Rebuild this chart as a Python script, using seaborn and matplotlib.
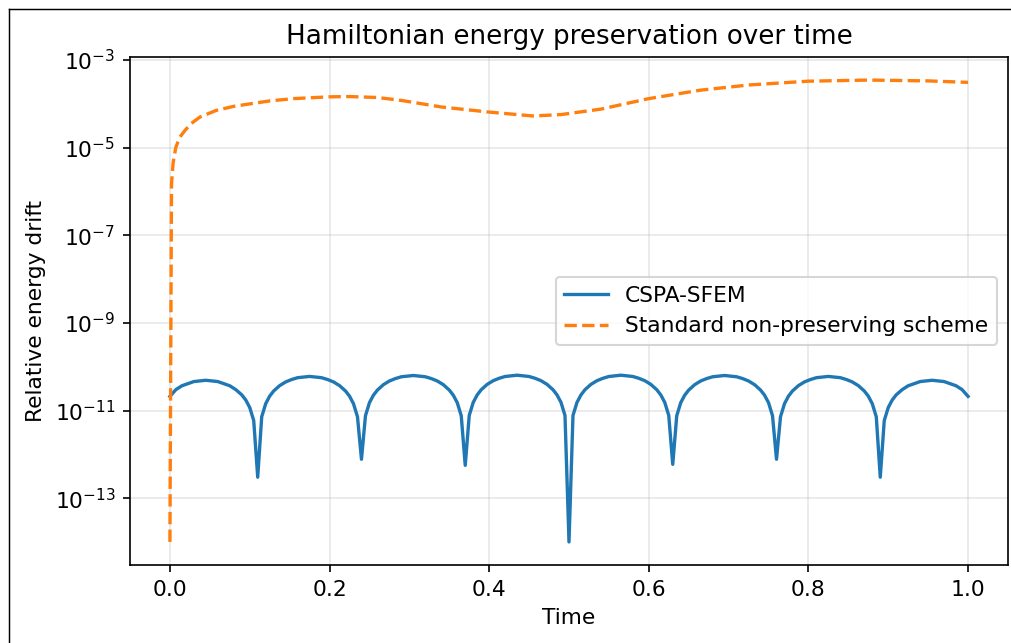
import numpy as np
import seaborn as sns
import matplotlib.pyplot as plt
from matplotlib.lines import Line2D

# CSPA-SFEM drift (cusps every 0.13)
t_arch0 = [0.0, 0.0075, 0.015, 0.03, 0.045, 0.06, 0.075, 0.0825, 0.09, 0.095, 0.1, 0.105, 0.11]
e_arch0 = [2.1e-11, 3.0e-11, 3.67e-11, 4.58e-11, 4.9e-11, 4.58e-11, 3.67e-11, 3.0e-11, 2.28e-11, 1.74e-11, 1.17e-11, 5.9e-12, 3.0e-13]

t_arch1 = [0.115, 0.12, 0.125, 0.13, 0.1375, 0.145, 0.1525, 0.16, 0.175, 0.19, 0.1975, 0.205, 0.2125, 0.22, 0.225, 0.23, 0.235, 0.24]
e_arch1 = [7.2e-12, 1.43e-11, 2.13e-11, 2.79e-11, 3.7e-11, 4.49e-11, 5.1e-11, 5.61e-11, 6.0e-11, 5.61e-11, 5.1e-11, 4.49e-11, 3.7e-11, 2.79e-11, 2.13e-11, 1.43e-11, 7.2e-12, 7.7e-13]

t_arch2 = [0.245, 0.25, 0.255, 0.26, 0.2675, 0.275, 0.2825, 0.29, 0.305, 0.32, 0.3275, 0.335, 0.3425, 0.35, 0.355, 0.36, 0.365, 0.37]
e_arch2 = [7.6e-12, 1.51e-11, 2.24e-11, 2.93e-11, 3.89e-11, 4.72e-11, 5.36e-11, 5.89e-11, 6.3e-11, 5.89e-11, 5.36e-11, 4.72e-11, 3.89e-11, 2.93e-11, 2.24e-11, 1.51e-11, 7.6e-12, 5.6e-13]

t_arch3 = [0.375, 0.38, 0.385, 0.39, 0.3975, 0.405, 0.4125, 0.42, 0.435, 0.45, 0.4575, 0.465, 0.4725, 0.48, 0.485, 0.49, 0.495, 0.5]
e_arch3 = [7.7e-12, 1.53e-11, 2.27e-11, 2.98e-11, 3.95e-11, 4.79e-11, 5.44e-11, 5.98e-11, 6.4e-11, 5.98e-11, 5.44e-11, 4.79e-11, 3.95e-11, 2.98e-11, 2.27e-11, 1.53e-11, 7.7e-12, 1.0e-14]

t_arch4 = [0.505, 0.51, 0.515, 0.52, 0.5275, 0.535, 0.5425, 0.55, 0.565, 0.58, 0.5875, 0.595, 0.6025, 0.61, 0.615, 0.62, 0.625, 0.63]
e_arch4 = [7.7e-12, 1.53e-11, 2.27e-11, 2.98e-11, 3.95e-11, 4.79e-11, 5.44e-11, 5.98e-11, 6.4e-11, 5.98e-11, 5.44e-11, 4.79e-11, 3.95e-11, 2.98e-11, 2.27e-11, 1.53e-11, 7.7e-12, 5.9e-13]

t_arch5 = [0.635, 0.64, 0.645, 0.65, 0.6575, 0.665, 0.6725, 0.68, 0.695, 0.71, 0.7175, 0.725, 0.7325, 0.74, 0.745, 0.75, 0.755, 0.76]
e_arch5 = [7.6e-12, 1.51e-11, 2.24e-11, 2.93e-11, 3.89e-11, 4.72e-11, 5.36e-11, 5.89e-11, 6.3e-11, 5.89e-11, 5.36e-11, 4.72e-11, 3.89e-11, 2.93e-11, 2.24e-11, 1.51e-11, 7.6e-12, 7.7e-13]

t_arch6 = [0.765, 0.77, 0.775, 0.78, 0.7875, 0.795, 0.8025, 0.81, 0.825, 0.84, 0.8475, 0.855, 0.8625, 0.87, 0.875, 0.88, 0.885, 0.89]
e_arch6 = [7.2e-12, 1.43e-11, 2.13e-11, 2.79e-11, 3.7e-11, 4.49e-11, 5.1e-11, 5.61e-11, 6.0e-11, 5.61e-11, 5.1e-11, 4.49e-11, 3.7e-11, 2.79e-11, 2.13e-11, 1.43e-11, 7.2e-12, 3.0e-13]

t_arch7 = [0.895, 0.9, 0.905, 0.91, 0.9175, 0.925, 0.94, 0.955, 0.97, 0.985, 0.9925, 1.0]
e_arch7 = [5.9e-12, 1.17e-11, 1.74e-11, 2.28e-11, 3.0e-11, 3.67e-11, 4.58e-11, 4.9e-11, 4.58e-11, 3.67e-11, 3.0e-11, 2.1e-11]

t_cspa = np.concatenate([t_arch0, t_arch1, t_arch2, t_arch3, t_arch4, t_arch5, t_arch6, t_arch7])
e_cspa = np.concatenate([e_arch0, e_arch1, e_arch2, e_arch3, e_arch4, e_arch5, e_arch6, e_arch7])

# standard scheme
t_std = [0.0, 0.002, 0.004, 0.0073, 0.012, 0.019, 0.027, 0.0375, 0.058, 0.08, 0.1, 0.125, 0.155,
         0.2, 0.225, 0.26, 0.29, 0.34, 0.4, 0.455, 0.49, 0.54, 0.6, 0.664, 0.725, 0.8,
         0.876, 0.95, 1.0]
e_std = [1e-14, 1.5e-6, 4.5e-6, 1.0e-5, 1.7e-5, 2.5e-5, 3.6e-5, 5.0e-5, 7.1e-5, 8.8e-5, 1.0e-4, 1.17e-4, 1.32e-4,
         1.45e-4, 1.47e-4, 1.4e-4, 1.2e-4, 8.5e-5, 6.5e-5, 5.3e-5, 5.7e-5, 7.6e-5, 1.32e-4, 2.05e-4,
         2.7e-4, 3.3e-4, 3.5e-4, 3.35e-4, 3.1e-4]

plt.rcParams["font.size"] = 10.45

fig, ax = plt.subplots(figsize=(1011 / 150, 643 / 150), dpi=150)
fig.subplots_adjust(left=0.1286, right=0.997, bottom=0.1213, top=0.9114)

sns.lineplot(x=t_cspa, y=e_cspa, ax=ax, color="tab:blue", linewidth=1.6, label="CSPA-SFEM")
sns.lineplot(x=t_std, y=e_std, ax=ax, color="tab:orange", linewidth=1.6, linestyle="--",
             label="Standard non-preserving scheme")

ax.set_yscale("log")
ax.set_xlabel("Time")
ax.set_ylabel("Relative energy drift")
ax.set_title("Hamiltonian energy preservation over time")
ax.grid(True, alpha=0.3)
ax.legend(loc="center right")

# frame edge from the screenshot (left and top only)
W, H = 1011, 643
fig.add_artist(Line2D([8.5 / W, 8.5 / W], [0, 1 - 9.5 / H], color="black", linewidth=0.7, transform=fig.transFigure))
fig.add_artist(Line2D([8.5 / W, 1], [1 - 9.5 / H, 1 - 9.5 / H], color="black", linewidth=0.7, transform=fig.transFigure))

fig.savefig("out.png", dpi=150)
